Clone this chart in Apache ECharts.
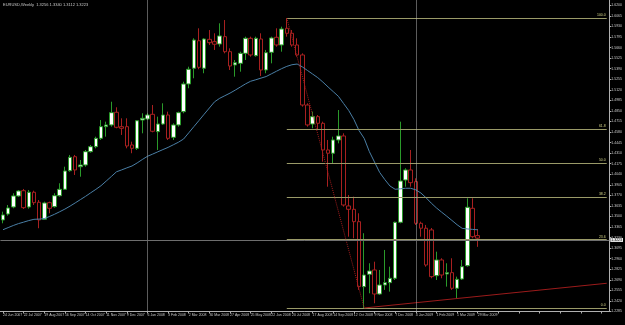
<!DOCTYPE html>
<html>
<head>
<meta charset="utf-8">
<title>EURUSD Weekly</title>
<script src="https://cdn.jsdelivr.net/npm/echarts@6/dist/echarts.min.js"></script>
<style>
  html, body { margin: 0; padding: 0; background: #000; }
  #chart { width: 625px; height: 325px; }
</style>
</head>
<body>
<div id="chart"></div>
<script type="text/javascript">
// weekly bars, first bar = week of 24 Jun 2007, last = 29 Mar 2009
var opens = [
  1.3456, 1.3532, 1.3622, 1.3763, 1.3830, 1.3622, 1.3810, 1.3682, 1.3465, 1.3677,
  1.3626, 1.3766, 1.3848, 1.4086, 1.4265, 1.4137, 1.4159, 1.4329, 1.4393, 1.4500,
  1.4649, 1.4671, 1.4833, 1.4649, 1.4649, 1.4415, 1.4372, 1.4734, 1.4747, 1.4807,
  1.4585, 1.4683, 1.4798, 1.4513, 1.4671, 1.4841, 1.5195, 1.5396, 1.5748, 1.5396,
  1.5766, 1.5736, 1.5706, 1.5800, 1.5608, 1.5438, 1.5459, 1.5587, 1.5779, 1.5557,
  1.5770, 1.5374, 1.5600, 1.5792, 1.5694, 1.5907, 1.5843, 1.5694, 1.5566, 1.4926,
  1.4683, 1.4777, 1.4692, 1.4351, 1.4309, 1.4479, 1.4530, 1.3635, 1.3592, 1.3434,
  1.2603, 1.2761, 1.2816, 1.2509, 1.2624, 1.2654, 1.2710, 1.3426, 1.3967, 1.4095,
  1.3946, 1.3413, 1.3350, 1.3328, 1.2743, 1.2944, 1.2765, 1.2782, 1.2582, 1.2701,
  1.2871, 1.3605, 1.3256
];
var highs = [
  1.3562, 1.3647, 1.3797, 1.3839, 1.3852, 1.3839, 1.3830, 1.3711, 1.3690, 1.3690,
  1.3797, 1.3925, 1.4137, 1.4287, 1.4287, 1.4223, 1.4351, 1.4415, 1.4521, 1.4734,
  1.4713, 1.4968, 1.4897, 1.4756, 1.4756, 1.4457, 1.4734, 1.4820, 1.4820, 1.4926,
  1.4777, 1.4948, 1.4841, 1.4692, 1.4841, 1.5224, 1.5416, 1.5779, 1.5907, 1.5779,
  1.5885, 1.5843, 1.5971, 1.6013, 1.5651, 1.5502, 1.5608, 1.5800, 1.5800, 1.5800,
  1.5843, 1.5630, 1.5800, 1.5907, 1.5928, 1.6038, 1.5885, 1.5779, 1.5587, 1.4948,
  1.4841, 1.4798, 1.4713, 1.4479, 1.4521, 1.4862, 1.4564, 1.3775, 1.3754, 1.3541,
  1.3286, 1.2902, 1.2922, 1.2816, 1.3072, 1.2858, 1.3434, 1.4713, 1.4117, 1.4351,
  1.3989, 1.3434, 1.3392, 1.3353, 1.3050, 1.2966, 1.2902, 1.2966, 1.2731, 1.2944,
  1.3733, 1.3733, 1.3340
];
var lows = [
  1.3413, 1.3511, 1.3605, 1.3750, 1.3596, 1.3600, 1.3647, 1.3350, 1.3456, 1.3541,
  1.3613, 1.3754, 1.3839, 1.4073, 1.4031, 1.4009, 1.4137, 1.4316, 1.4372, 1.4479,
  1.4521, 1.4649, 1.4628, 1.4543, 1.4372, 1.4309, 1.4351, 1.4564, 1.4734, 1.4577,
  1.4351, 1.4671, 1.4479, 1.4479, 1.4649, 1.4820, 1.5140, 1.5268, 1.5383, 1.5332,
  1.5694, 1.5630, 1.5672, 1.5587, 1.5374, 1.5288, 1.5352, 1.5502, 1.5544, 1.5544,
  1.5297, 1.5332, 1.5459, 1.5672, 1.5608, 1.5800, 1.5672, 1.5544, 1.4905, 1.4649,
  1.4628, 1.4607, 1.4201, 1.3881, 1.4181, 1.4436, 1.3626, 1.3242, 1.3222, 1.2561,
  1.2330, 1.2518, 1.2390, 1.2497, 1.2561, 1.2539, 1.2688, 1.3413, 1.3881, 1.3881,
  1.3392, 1.3242, 1.2858, 1.2710, 1.2688, 1.2710, 1.2603, 1.2561, 1.2454, 1.2688,
  1.2858, 1.3222, 1.3112
];
var closes = [
  1.3520, 1.3609, 1.3763, 1.3826, 1.3613, 1.3810, 1.3677, 1.3456, 1.3673, 1.3605,
  1.3766, 1.3848, 1.4082, 1.4257, 1.4095, 1.4159, 1.4329, 1.4393, 1.4500, 1.4649,
  1.4671, 1.4828, 1.4641, 1.4628, 1.4402, 1.4372, 1.4725, 1.4756, 1.4798, 1.4590,
  1.4683, 1.4798, 1.4500, 1.4671, 1.4828, 1.5195, 1.5383, 1.5757, 1.5408, 1.5770,
  1.5723, 1.5703, 1.5809, 1.5608, 1.5425, 1.5467, 1.5587, 1.5779, 1.5566, 1.5779,
  1.5374, 1.5595, 1.5783, 1.5694, 1.5898, 1.5843, 1.5694, 1.5566, 1.4926, 1.4671,
  1.4777, 1.4692, 1.4351, 1.4309, 1.4479, 1.4530, 1.3647, 1.3592, 1.3434, 1.2603,
  1.2752, 1.2803, 1.2509, 1.2624, 1.2654, 1.2710, 1.3426, 1.3954, 1.4095, 1.3933,
  1.3413, 1.3350, 1.2880, 1.2731, 1.2944, 1.2752, 1.2782, 1.2582, 1.2697, 1.2858,
  1.3618, 1.3242, 1.3223
];
// moving average
var maValues = [
  1.3331, 1.3358, 1.3385, 1.3409, 1.3428, 1.3448, 1.3464, 1.3467, 1.3473, 1.3500,
  1.3529, 1.3561, 1.3595, 1.3633, 1.3674, 1.3716, 1.3758, 1.3803, 1.3847, 1.3894,
  1.3953, 1.4012, 1.4072, 1.4096, 1.4122, 1.4146, 1.4185, 1.4229, 1.4270, 1.4298,
  1.4327, 1.4356, 1.4384, 1.4417, 1.4450, 1.4491, 1.4570, 1.4650, 1.4729, 1.4809,
  1.4888, 1.4967, 1.5012, 1.5045, 1.5078, 1.5116, 1.5156, 1.5196, 1.5230, 1.5249,
  1.5270, 1.5290, 1.5324, 1.5358, 1.5391, 1.5420, 1.5441, 1.5450, 1.5414, 1.5368,
  1.5322, 1.5276, 1.5219, 1.5157, 1.5097, 1.5037, 1.4946, 1.4856, 1.4742, 1.4599,
  1.4499, 1.4330, 1.4197, 1.4064, 1.3972, 1.3890, 1.3848, 1.3854, 1.3861, 1.3861,
  1.3841, 1.3800, 1.3739, 1.3671, 1.3610, 1.3556, 1.3504, 1.3450, 1.3395, 1.3348,
  1.3341, 1.3335, 1.3330
];

var firstWeek = Date.UTC(2007, 5, 24);
var emptyWeeks = 25;                  // free space on the right of the last bar
var fiboRatios = [0, 23.6, 38.2, 50.0, 61.8, 100.0];
var fiboHigh = 1.6038, fiboLow = 1.2330, fiboHighBar = 55, fiboLowBar = 70;
var trendEnd = 1.2646;               // support line value at the right edge
var bidPrice = 1.3223;
var yearStartBars = [28, 80];

var months = ['Jan','Feb','Mar','Apr','May','Jun','Jul','Aug','Sep','Oct','Nov','Dec'];
var dates = [];
for (var i = 0; i < opens.length; i++) {
    var d = new Date(firstWeek + i * 7 * 86400000);
    dates.push(d.getUTCDate() + ' ' + months[d.getUTCMonth()] + ' ' + d.getUTCFullYear());
}
for (var j = 0; j < emptyWeeks; j++) dates.push('');

var candleData = [];
for (var k = 0; k < opens.length; k++) {
    candleData.push([opens[k], closes[k], lows[k], highs[k]]);
}
var lastIdx = dates.length - 1;

var fiboLines = fiboRatios.map(function (r) {
    var level = fiboLow + (fiboHigh - fiboLow) * r / 100;
    return [
        { coord: [fiboHighBar, level], label: { formatter: r.toFixed(1) } },
        { coord: [lastIdx, level] }
    ];
});

var chart = echarts.init(document.getElementById('chart'));
var txt = '#c8c8c8';

var option = {
    backgroundColor: '#000',
    animation: false,
    graphic: [{
        type: 'text', left: 3, top: 3,
        style: { text: 'EURUSD,Weekly  1.3256 1.3340 1.3112 1.3223', fill: txt, fontSize: 4, fontFamily: 'Arial' }
    }],
    grid: { left: 0, right: 13, top: 0, bottom: 13.5 },
    xAxis: {
        type: 'category',
        data: dates,
        boundaryGap: true,
        axisLine: { lineStyle: { color: '#b0b0b0' } },
        axisTick: { show: true, interval: 3, alignWithLabel: true, length: 2, lineStyle: { color: '#b0b0b0' } },
        axisLabel: { interval: 3, align: 'left', color: txt, fontSize: 3.5, margin: 2, fontFamily: 'Arial' },
        splitLine: { show: false }
    },
    yAxis: {
        type: 'value',
        position: 'right',
        min: 1.2285, max: 1.6269, interval: 0.0135,
        axisLine: { show: true, lineStyle: { color: '#b0b0b0' } },
        axisTick: { show: true, length: 2, lineStyle: { color: '#b0b0b0' } },
        axisLabel: {
            color: txt, fontSize: 3.5, margin: 2, showMaxLabel: false, fontFamily: 'Arial',
            formatter: function (v) { return v.toFixed(4); }
        },
        splitLine: { show: false }
    },
    series: [
        {
            name: 'EURUSD',
            type: 'candlestick',
            data: candleData,
            barWidth: 4,
            itemStyle: {
                color: '#ffffff', color0: '#000000',
                borderColor: '#2a9a2a', borderColor0: '#a82020', borderWidth: 1
            }
        },
        {
            name: 'MA',
            type: 'line',
            data: maValues,
            symbol: 'none',
            lineStyle: { color: '#4a7fa6', width: 1 }
        },
        {
            name: 'fibo',
            type: 'line',
            data: [],
            markLine: {
                silent: true, symbol: ['none', 'none'],
                lineStyle: { color: '#9a9a68', type: 'solid', width: 1 },
                label: { position: 'insideEndTop', color: '#d6d68a', fontSize: 3.5, distance: [1, 1], fontFamily: 'Arial' },
                data: fiboLines
            }
        },
        {
            name: 'trend',
            type: 'line',
            data: [],
            markLine: {
                silent: true, symbol: ['none', 'none'],
                label: { show: false },
                data: [
                    [{ coord: [fiboHighBar, fiboHigh], lineStyle: { color: '#a01c1c', type: 'dotted', width: 1 } },
                     { coord: [fiboLowBar, fiboLow] }],
                    [{ coord: [fiboLowBar, fiboLow], lineStyle: { color: '#9b1b1b', type: 'solid', width: 1 } },
                     { coord: [lastIdx, trendEnd] }]
                ]
            }
        },
        {
            name: 'separators',
            type: 'line',
            data: [],
            markLine: {
                silent: true, symbol: ['none', 'none'],
                label: { show: false },
                lineStyle: { color: '#b8b8b8', type: 'dotted', width: 1 },
                data: yearStartBars.map(function (b) { return { xAxis: b }; })
            }
        },
        {
            name: 'bid',
            type: 'line',
            data: [],
            markLine: {
                silent: true, symbol: ['none', 'none'],
                lineStyle: { color: '#6e6e6e', type: 'solid', width: 1 },
                label: {
                    position: 'end', formatter: bidPrice.toFixed(4), color: '#000',
                    backgroundColor: '#e8e8e8', fontSize: 3.5, padding: [0, 1], distance: 1, fontFamily: 'Arial'
                },
                data: [{ yAxis: bidPrice }]
            }
        }
    ]
};
chart.setOption(option);
</script>
</body>
</html>
